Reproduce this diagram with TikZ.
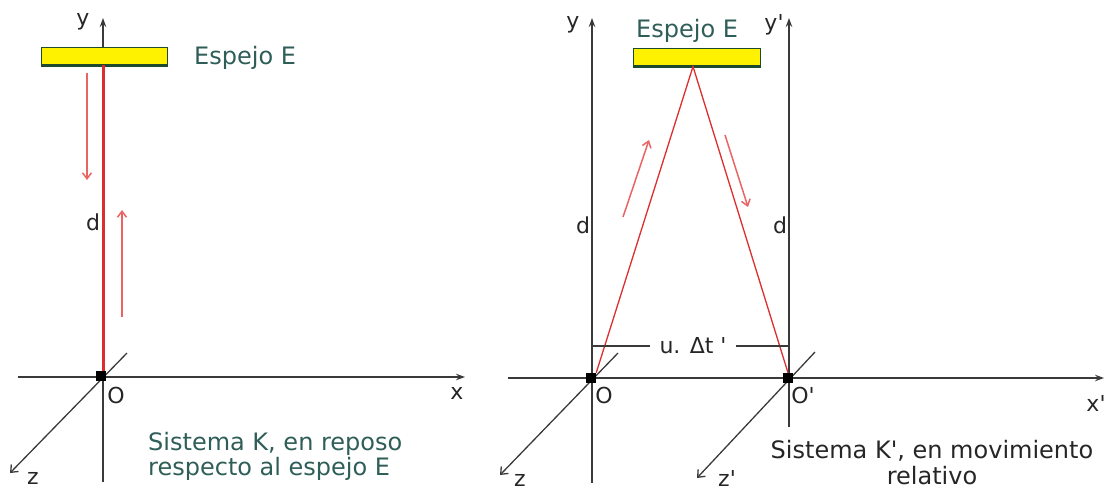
\documentclass[tikz,border=0pt]{standalone}
\usepackage{fontspec}
\setmainfont{DejaVu Sans}[Ligatures=TeXOff]
\usetikzlibrary{arrows.meta}
\definecolor{capteal}{HTML}{2F5E58}
\definecolor{axisgray}{HTML}{3A3A3A}
\definecolor{raycol}{HTML}{DC2E2E}
\definecolor{raylight}{HTML}{EA6464}
\definecolor{mirrorline}{HTML}{1E4A2E}
\definecolor{captext}{HTML}{262626}
\begin{document}
\begin{tikzpicture}[x=1pt,y=-1pt,
  axis/.style={draw=axisgray, line width=1.3pt},
  axarrow/.style={axis, -{Stealth[length=9pt,width=6.5pt]}},
  zarrow/.style={axis, -{Straight Barb[length=6pt,width=10pt]}},
  lbl/.style={font=\fontsize{22}{24}\selectfont, text=captext, inner sep=0pt},
  capt/.style={font=\fontsize{24}{26}\selectfont, text=capteal, inner sep=0pt},
  mirror/.style={draw=mirrorline, fill=yellow, line width=1pt, inner sep=0pt},
  origin/.style={fill=black, draw=none, minimum size=10pt, inner sep=0pt},
  thickray/.style={draw=raycol, line width=3pt},
  thinray/.style={draw=raycol, line width=1.3pt},
  rayarrow/.style={draw=raylight, line width=1.5pt, -{Straight Barb[length=6pt,width=9pt]}},
  dimline/.style={draw=axisgray, line width=1.3pt}
]
\useasboundingbox (0,0) rectangle (1115,493);

% ================= LEFT: system K =================
\coordinate (y1b) at (103,482);
\coordinate (y1t) at (103,18);
\coordinate (x1l) at (18,377);
\coordinate (x1r) at (465,377);
\coordinate (z1a) at (127,353);
\coordinate (z1b) at (10,473);
\draw[axarrow] (y1b) -- (y1t);
\draw[axarrow] (x1l) -- (x1r);
\draw[zarrow] (z1a) -- (z1b);

\node[mirror, minimum width=126pt, minimum height=17pt] (m1) at (104,56) {};
\draw[mirrorline, line width=3pt] (m1.south west) -- (m1.south east);
\node[capt, anchor=base west] (e1) at (194,64) {Espejo E};

\node[origin] (o1) at (101,376) {};
\draw[thickray] (m1.south -| y1t) -- (o1.north -| y1t);

\coordinate (a1s) at (87,73);
\coordinate (a1e) at (87,180);
\coordinate (a2s) at (122,317);
\coordinate (a2e) at (122,210);
\draw[rayarrow] (a1s) -- (a1e);
\draw[rayarrow] (a2s) -- (a2e);

\node[lbl] (ly1) at (83,22) {y};
\node[lbl] (ld1) at (93,222) {d};
\node[lbl] (lo1) at (116,395) {O};
\node[lbl] (lx1) at (457,393) {x};
\node[lbl] (lz1) at (33,478) {z};
\node[capt, anchor=north west, align=left] (c1) at (148,432)
  {Sistema K, en reposo\\[-1pt]respecto al espejo E};

% ================= RIGHT: system K' =================
\coordinate (y2b) at (592,483);
\coordinate (y2t) at (592,18);
\coordinate (y3b) at (789,427);
\coordinate (y3t) at (789,18);
\coordinate (x2l) at (508,378);
\coordinate (x2r) at (1104,378);
\coordinate (z2a) at (618,353);
\coordinate (z2b) at (500,475);
\coordinate (z3a) at (815,352);
\coordinate (z3b) at (697,478);
\draw[axarrow] (y2b) -- (y2t);
\draw[axarrow] (y3b) -- (y3t);
\draw[axarrow] (x2l) -- (x2r);
\draw[zarrow] (z2a) -- (z2b);
\draw[zarrow] (z3a) -- (z3b);

\node[mirror, minimum width=127pt, minimum height=18pt] (m2) at (697,57) {};
\draw[mirrorline, line width=3pt] (m2.south west) -- (m2.south east);
\node[capt, anchor=base west] (e2) at (636,37) {Espejo E};
\coordinate (apex) at ([xshift=-4pt]m2.south);

\node[origin] (o2) at (591,378) {};
\node[origin] (o3) at (788,378) {};
\draw[thinray] (o2.north east) -- (apex) -- (o3.north);

\coordinate (a3s) at (623,217);
\coordinate (a3e) at (649,140);
\coordinate (a4s) at (725,135);
\coordinate (a4e) at (748,207);
\draw[rayarrow] (a3s) -- (a3e);
\draw[rayarrow] (a4s) -- (a4e);

\node[lbl, inner xsep=9pt] (ut) at (693,346) {u. Δt '};
\draw[dimline] (ut.west -| y2t) -- (ut.west);
\draw[dimline] (ut.east) -- (ut.east -| y3t);

\node[lbl] (ly2) at (573,25) {y};
\node[lbl] (ly3) at (774,25) {y'};
\node[lbl] (ld2) at (583,225) {d};
\node[lbl] (ld3) at (780,225) {d};
\node[lbl] (lo2) at (604,395) {O};
\node[lbl] (lo3) at (803,395) {O'};
\node[lbl] (lx2) at (1096,403) {x'};
\node[lbl] (lz2) at (520,480) {z};
\node[lbl] (lz3) at (727,478) {z'};
\node[capt, text=captext, anchor=north, align=center] (c2) at (932,440)
  {Sistema K', en movimiento\\[0pt]relativo};
\end{tikzpicture}
\end{document}
